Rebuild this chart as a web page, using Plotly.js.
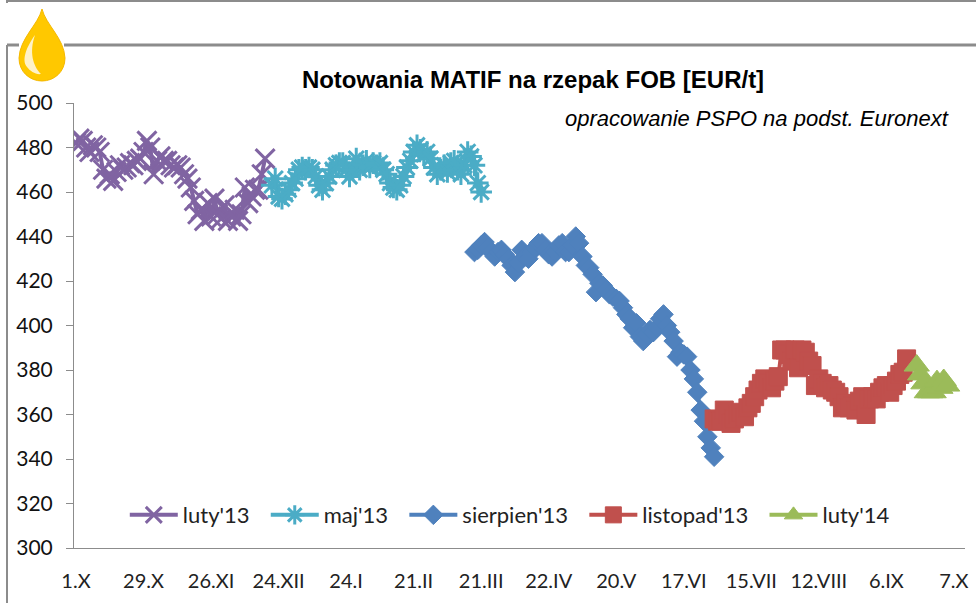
<!DOCTYPE html>
<html><head><meta charset="utf-8">
<script src="https://cdn.plot.ly/plotly-3.0.1.min.js"></script>
<style>html,body{margin:0;padding:0;background:#fff}#c{width:976px;height:603px}</style></head>
<body><div id="c"></div>
<script>
const tickLabels=["1.X","29.X","26.XI","24.XII","24.I","21.II","21.III","22.IV","20.V","17.VI","15.VII","12.VIII","6.IX","7.X"];
const tickPositions=[0,20,40,60,80,100,120,140,160,180,200,220,240,260];
const lutyStart=0;
const lutyY=[482,484,483,480,478,481,480,478,470,466,468,465,469,472,470,471,473,472,474,475,478,483,480,468,474,476,474,474,472,471,472,471,468,466,462,456,450,452,447,455,449,457,450,448,454,447,449,452,447,450,462,455,458,461,461,468,475];
const majStart=58;
const majY=[463,466,458,457,459,461,464,466,470,471,470,471,470,467,463,461,464,467,470,472,473,473,470,467,470,475,470,472,474,471,473,472,473,470,468,464,462,461,463,467,471,474,478,481,479,477,478,475,471,468,470,472,469,473,474,470,468,472,478,476,472,464,460];
const sierpienStart=118;
const sierpienY=[433,434,436,437.5,435,433,431,433,434,432,430,427,424,428,434,431,430,433,435,437,437,434,432,431,433,436,437,433,433,436,440,437,431,427,426,423,415,419,418,416,414,413,412,411,408,405,403,399,401,395,393,396,398,397,399,403,405,400,397,393,386,388,387,386,380,376,370,362,357,350,345,341];
const listopadStart=189;
const listopadY=[358,357,357,362,360,356,358,360,361,359,363,365,368,371,374,376,374,372,375,377,389,389,387,384,389,381,389,388,384,382,373,376,374,372,373,371,370,368,363,365,363,364,362,366,368,360,367,368,367,370,372,373,370,373,375,378,379,385];
const lutyNextStart=249;
const lutyNextY=[382,378,374,370,370,370,375,372,375.5,373];
const idx=(s,y)=>y.map((_,i)=>s+i);
const pad="\u00a0\u00a0";
const traces=[
 {name:"luty'13"+pad,x:idx(lutyStart,lutyY),y:lutyY,color:"#8064a2",sym:"x-thin-open",size:19,w:4,mw:3},
 {name:"maj'13"+pad,x:idx(majStart,majY),y:majY,color:"#4bacc6",sym:"asterisk-open",size:18,w:4,mw:3},
 {name:"sierpien'13"+pad,x:idx(sierpienStart,sierpienY),y:sierpienY,color:"#4f81bd",sym:"diamond",size:15,w:4,mw:1},
 {name:"listopad'13"+pad,x:idx(listopadStart,listopadY),y:listopadY,color:"#c0504d",sym:"square",size:18,w:4,mw:1},
 {name:"luty'14",x:idx(lutyNextStart,lutyNextY),y:lutyNextY,color:"#9bbb59",sym:"triangle-up",size:22,w:4,mw:1}
].map(s=>({type:"scatter",mode:"lines+markers",name:s.name,x:s.x,y:s.y,
 line:{color:s.color,width:s.w},
 marker:{symbol:s.sym,size:s.size,color:s.color,line:{color:s.color,width:s.mw}}}));
const W=976,H=603,L=74,R=965,T=103,B=548;
const px=x=>(x-L)/(R-L), py=y=>(B-y)/(B-T);
const P=(x,y)=>px(x)+","+py(y);
const gray="#8c8c8c";
const line=(x0,y0,x1,y1,w)=>({type:"line",xref:"paper",yref:"paper",x0:px(x0),y0:py(y0),x1:px(x1),y1:py(y1),line:{color:gray,width:w}});
const drop="M "+P(42,9)+" C "+P(46,25)+" "+P(64,38)+" "+P(65,58)+" C "+P(65,72)+" "+P(54,81)+" "+P(42,81)+" C "+P(30,81)+" "+P(19,72)+" "+P(19,58)+" C "+P(20,38)+" "+P(38,25)+" "+P(42,9)+" Z";
const shine="M "+P(35,35)+" C "+P(27,46)+" "+P(21,60)+" "+P(27,67)+" C "+P(30,71)+" "+P(36,75)+" "+P(41,74)+" C "+P(33,66)+" "+P(29,52)+" "+P(35,35)+" Z";
const layout={width:W,height:H,margin:{l:L,r:W-R,t:T,b:H-B},paper_bgcolor:"#fff",plot_bgcolor:"#fff",showlegend:true,
 font:{family:"Lato, 'Liberation Sans', sans-serif",color:"#111"},
 legend:{orientation:"h",x:0.057,y:0.074,xanchor:"left",yanchor:"middle",font:{size:22,color:"#222"},bgcolor:"rgba(0,0,0,0)",itemwidth:48,traceorder:"normal"},
 xaxis:{range:[-0.6,263.3],tickmode:"array",tickvals:tickPositions,ticktext:tickLabels,showgrid:false,zeroline:false,showline:true,linecolor:gray,linewidth:1,ticks:"",tickfont:{size:20,color:"#222"},ticklabelstandoff:15},
 yaxis:{range:[300,500],tick0:300,dtick:20,showgrid:false,zeroline:false,showline:true,linecolor:gray,linewidth:1,ticks:"outside",ticklen:7,tickcolor:gray,tickfont:{size:21,color:"#111"},ticklabelstandoff:9},
 title:{text:"<b>Notowania MATIF na rzepak FOB [EUR/t]</b>",x:533/W,xanchor:"center",y:1-80/H,yanchor:"middle",font:{family:"'Liberation Sans',sans-serif",size:24,color:"#000"}},
 annotations:[{xref:"paper",yref:"paper",x:px(951),y:py(119),xanchor:"right",yanchor:"middle",showarrow:false,text:"<i>opracowanie PSPO na podst. Euronext</i>",font:{family:"'Liberation Sans',sans-serif",size:22,color:"#000"}}],
 shapes:[line(7,1,976,1,2),line(7,0,7,3,2),line(7,45,19,45,3),line(64,45,976,45,3),line(7,45,7,603,2),
  {type:"path",xref:"paper",yref:"paper",path:drop,fillcolor:"#ffc800",line:{color:"#f5b800",width:1}},
  {type:"path",xref:"paper",yref:"paper",path:shine,fillcolor:"#fff2c8",line:{width:0}}]
};
Plotly.newPlot("c",traces,layout,{displayModeBar:false,staticPlot:true});
</script></body></html>
